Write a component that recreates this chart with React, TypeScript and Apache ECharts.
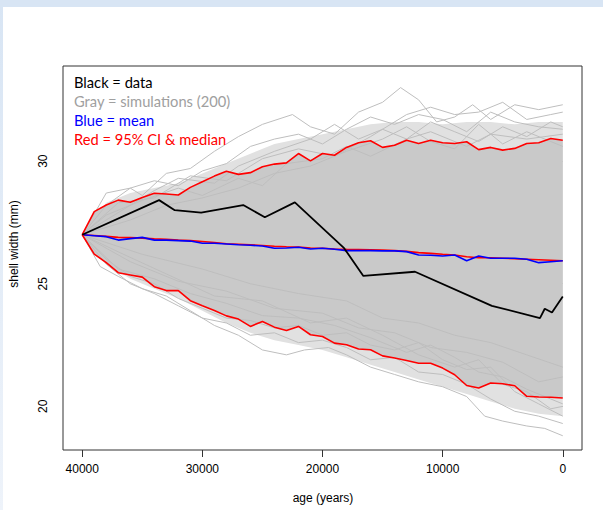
import React, { useEffect, useRef } from "react";
import * as echarts from "echarts";

// age grid of the simulation summaries (years before present)
const ages = [40000, 39000, 38000, 37000, 36000, 35000, 34000, 33000, 32000, 31000, 30000,
  29000, 28000, 27000, 26000, 25000, 24000, 23000, 22000, 21000, 20000,
  19000, 18000, 17000, 16000, 15000, 14000, 13000, 12000, 11000, 10000,
  9000, 8000, 7000, 6000, 5000, 4000, 3000, 2000, 1000, 0];

const ciUpper = [27.00, 27.94, 28.21, 28.41, 28.32, 28.52, 28.69, 28.66, 28.62, 28.93, 29.16,
  29.39, 29.59, 29.46, 29.53, 29.77, 29.88, 29.93, 30.31, 30.01, 30.31,
  30.24, 30.56, 30.75, 30.83, 30.56, 30.65, 30.85, 30.72, 30.85, 30.75,
  30.72, 30.79, 30.47, 30.56, 30.45, 30.52, 30.72, 30.75, 30.92, 30.85];

const ciLower = [27.00, 26.21, 25.86, 25.45, 25.36, 25.27, 24.88, 24.72, 24.72, 24.31, 24.10,
  23.91, 23.69, 23.56, 23.26, 23.46, 23.23, 23.09, 23.26, 22.92, 22.85,
  22.58, 22.51, 22.34, 22.31, 22.06, 21.97, 21.87, 21.76, 21.76, 21.56,
  21.29, 20.85, 20.75, 20.95, 20.92, 20.84, 20.41, 20.38, 20.37, 20.34];

const median = [27.00, 26.97, 26.93, 26.89, 26.88, 26.86, 26.83, 26.81, 26.78, 26.76, 26.72,
  26.68, 26.63, 26.61, 26.59, 26.56, 26.53, 26.51, 26.50, 26.46, 26.45,
  26.42, 26.40, 26.39, 26.38, 26.37, 26.35, 26.32, 26.27, 26.24, 26.20,
  26.17, 26.10, 26.06, 26.06, 26.04, 26.02, 26.00, 25.98, 25.96, 25.94];

const mean = [27.00, 26.96, 26.92, 26.78, 26.84, 26.89, 26.78, 26.78, 26.76, 26.74, 26.65,
  26.65, 26.62, 26.59, 26.57, 26.54, 26.45, 26.46, 26.49, 26.42, 26.45,
  26.41, 26.35, 26.35, 26.35, 26.34, 26.34, 26.31, 26.17, 26.16, 26.13,
  26.17, 25.94, 26.13, 26.04, 26.04, 26.04, 26.00, 25.86, 25.90, 25.94];

// looser mesh of simulations just outside the 95% band (2000-year grid)
const meshAges = [40000, 38000, 36000, 34000, 32000, 30000, 28000, 26000, 24000, 22000, 20000,
  18000, 16000, 14000, 12000, 10000, 8000, 6000, 4000, 2000, 0];
const meshUpper = [27.0, 28.3, 28.7, 28.9, 29.1, 29.5, 29.9, 30.3, 30.7, 30.9, 31.1,
  31.3, 31.5, 31.6, 31.6, 31.5, 31.6, 31.6, 31.5, 31.6, 31.6];
const meshLower = [27.0, 25.8, 25.2, 24.8, 24.4, 23.9, 23.4, 23.0, 22.7, 22.5, 22.3,
  22.0, 21.7, 21.4, 21.1, 20.8, 20.5, 20.2, 19.9, 19.7, 19.6];

// observed data
const dataAges = [40000, 33600, 32300, 30100, 26600, 24800, 22300, 18200, 16600, 12300, 5900, 1900, 1500, 900, 0];
const dataWidth = [27.0, 28.41, 28.0, 27.9, 28.21, 27.71, 28.32, 26.45, 25.32, 25.49, 24.10, 23.60, 23.98, 23.83, 24.48];

// individual simulation paths visible outside the dense core ([age, width])
const simUp1 = [[40000, 27], [38000, 28.7], [36000, 28.9], [35000, 28.6], [33000, 29.5], [31000, 29.7], [29000, 30.4], [27000, 31.0], [25000, 31.5], [22500, 31.9], [21000, 31.4], [19000, 31.1], [17000, 32.0], [15000, 32.4], [13500, 33.0], [12000, 32.5], [10500, 31.6], [9000, 31.8], [7500, 32.3], [6000, 31.7], [4000, 32.3], [2000, 32.1], [0, 32.3]];
const simUp2 = [[40000, 27], [38000, 28.2], [36000, 28.9], [34000, 29.2], [32000, 29.0], [30000, 29.6], [28000, 29.9], [26000, 30.6], [24000, 30.9], [22000, 31.1], [20000, 30.7], [18000, 31.3], [16000, 31.8], [14000, 31.5], [12000, 31.9], [10000, 31.7], [8000, 31.2], [6000, 32.0], [4000, 31.6], [2000, 31.4], [0, 31.3]];
const simUp3 = [[40000, 27], [37000, 27.9], [34000, 28.8], [32000, 29.3], [29000, 29.1], [27000, 29.8], [24000, 30.4], [21000, 30.9], [19000, 31.5], [17000, 30.9], [15000, 31.3], [13000, 30.9], [11000, 31.6], [9000, 31.2], [7000, 30.8], [5000, 31.4], [3000, 31.0], [1000, 31.6], [0, 31.4]];
const simUp4 = [[40000, 27], [38000, 27.8], [35000, 28.4], [32000, 28.9], [30000, 28.6], [27000, 29.3], [25000, 29.0], [23000, 29.9], [20000, 30.1], [18000, 30.6], [16000, 30.2], [13000, 30.9], [11000, 31.2], [8000, 30.6], [6000, 31.1], [3000, 30.9], [0, 31.1]];
const simUp5 = [[40000, 27], [36000, 27.6], [33000, 28.2], [30000, 28.5], [27000, 28.9], [24000, 29.5], [21000, 29.8], [18000, 30.4], [15000, 30.9], [13000, 31.4], [11000, 30.8], [9000, 30.5], [7000, 31.5], [5000, 30.7], [3000, 31.2], [0, 30.6]];
const simUp6 = [[40000, 27], [37000, 28.3], [34000, 28.5], [31000, 29.4], [28000, 29.2], [25000, 30.1], [22000, 30.5], [19000, 30.2], [16000, 31.0], [13000, 31.9], [11000, 32.2], [9000, 31.9], [7000, 32.0], [5000, 32.4], [3000, 31.7], [1000, 31.9], [0, 32.0]];
const simLo1 = [[40000, 27], [38500, 25.7], [37000, 25.3], [35000, 24.8], [33000, 24.5], [31000, 23.9], [29000, 23.3], [27000, 22.9], [25000, 22.3], [23000, 22.1], [21500, 22.3], [19500, 22.4], [18000, 22.1], [16000, 21.6], [14000, 21.3], [12000, 21.0], [10000, 20.8], [8000, 20.4], [6500, 19.6], [5000, 19.4], [3000, 19.2], [1500, 19.1], [0, 18.8]];
const simLo2 = [[40000, 27], [38000, 25.8], [36000, 25.0], [34000, 24.6], [32000, 24.1], [30000, 23.6], [28000, 23.4], [26000, 22.9], [24000, 23.0], [22000, 22.6], [20000, 22.7], [18000, 22.4], [16000, 21.9], [14000, 22.0], [12000, 21.4], [10000, 21.3], [8000, 20.9], [6000, 20.3], [4000, 19.8], [2000, 19.6], [0, 19.3]];
const simLo3 = [[40000, 27], [38000, 26.0], [36000, 25.3], [34000, 25.0], [32000, 24.4], [30000, 24.0], [28000, 23.6], [26000, 23.5], [24000, 23.2], [22000, 23.3], [20000, 22.9], [18000, 23.0], [16000, 22.5], [14000, 22.3], [12000, 22.6], [10000, 21.9], [8000, 21.5], [6000, 21.6], [4000, 20.6], [2000, 20.1], [0, 19.6]];
const simLo4 = [[40000, 27], [37000, 25.6], [34000, 25.2], [31000, 24.6], [28000, 24.2], [25000, 23.7], [22000, 23.6], [19000, 23.3], [16000, 22.8], [13000, 22.2], [11000, 22.5], [9000, 22.0], [7000, 21.4], [5000, 21.2], [3000, 20.7], [1000, 20.3], [0, 20.1]];
const simLo5 = [[40000, 27], [36000, 25.9], [32000, 25.1], [28000, 24.7], [24000, 24.0], [20000, 23.8], [17000, 23.2], [14000, 23.0], [11000, 22.4], [8000, 22.2], [5000, 21.8], [2000, 21.0], [0, 21.2]];
const simLo6 = [[40000, 27], [35000, 26.2], [30000, 25.6], [26000, 25.0], [22000, 24.6], [18000, 24.3], [15000, 23.6], [12000, 23.4], [9000, 22.9], [6000, 22.6], [3000, 22.1], [0, 21.6]];
const simLo7 = [[40000, 27], [37000, 26.3], [33000, 25.4], [29000, 24.5], [25000, 24.3], [21000, 23.4], [18000, 23.6], [15000, 22.9], [12000, 22.1], [9000, 21.6], [7000, 21.9], [5000, 20.9], [3000, 20.6], [1000, 19.9], [0, 20.0]];
const simPaths = [simUp1, simUp2, simUp3, simUp4, simUp5, simUp6, simLo1, simLo2, simLo3, simLo4, simLo5, simLo6, simLo7];

const xTicks = [40000, 30000, 20000, 10000, 0];
const yTicks = [20, 25, 30];
const legendLines = ["Black = data", "Gray = simulations (200)", "Blue = mean", "Red = 95% CI & median"];
const legendColors = ["#000000", "#a0a0a0", "#0000ff", "#ff0000"];

export default function App() {
  const ref = useRef<HTMLDivElement>(null);
  useEffect(() => {
    if (!ref.current) return;
    const chart = echarts.init(ref.current, null, { renderer: "svg" });
    const pair = (xs: number[], ys: number[]) => xs.map((x, i) => [x, ys[i]]);
    const gray = "#bebebe";
    const band = (xs: number[], up: number[], lo: number[], fill: string, z: number) => ({
      type: "custom", z, silent: true, data: [[0]],
      renderItem: (_params: any, api: any) => {
        const pts: number[][] = [];
        for (let i = 0; i < xs.length; i++) pts.push(api.coord([xs[i], up[i]]));
        for (let i = xs.length - 1; i >= 0; i--) pts.push(api.coord([xs[i], lo[i]]));
        return { type: "polygon", shape: { points: pts }, style: { fill, stroke: "none" } };
      },
    });
    const series: any[] = [
      band(meshAges, meshUpper, meshLower, "#e1e1e1", 1),
      band(ages, ciUpper, ciLower, "#c9c9c9", 1),
      ...simPaths.map((p) => ({
        type: "line", symbol: "none", z: 2, silent: true,
        lineStyle: { color: gray, width: 1 }, data: p,
      })),
      { type: "line", symbol: "none", z: 3, lineStyle: { color: "#ff0000", width: 1.6 }, data: pair(ages, median) },
      { type: "line", symbol: "none", z: 3, lineStyle: { color: "#0000ff", width: 1.6 }, data: pair(ages, mean) },
      { type: "line", symbol: "none", z: 3, lineStyle: { color: "#ff0000", width: 1.6 }, data: pair(ages, ciUpper) },
      { type: "line", symbol: "none", z: 3, lineStyle: { color: "#ff0000", width: 1.6 }, data: pair(ages, ciLower) },
      { type: "line", symbol: "none", z: 4, lineStyle: { color: "#000000", width: 1.8 }, data: pair(dataAges, dataWidth) },
    ];
    const legendTexts = legendLines.map((t, i) => ({
      type: "text", left: 74, top: 74 + i * 19.2, z: 10,
      style: { text: t, fill: legendColors[i], font: "14.7px Lato" },
    }));
    chart.setOption({
      animation: false,
      backgroundColor: "#ffffff",
      grid: { left: 63, right: 21, top: 66, bottom: 60, show: true, borderColor: "#333333", borderWidth: 1, backgroundColor: "transparent" },
      xAxis: {
        type: "value", inverse: true, min: -1600, max: 41600,
        axisLine: { show: false }, splitLine: { show: false },
        axisTick: { show: true, customValues: xTicks, length: 7, lineStyle: { color: "#333333" } },
        axisLabel: { customValues: xTicks, formatter: (v: number) => String(v), color: "#000", fontSize: 12, fontFamily: "Liberation Sans", margin: 13 },
      },
      yAxis: {
        type: "value", min: 18.22, max: 33.88,
        axisLine: { show: false }, splitLine: { show: false },
        axisTick: { show: true, customValues: yTicks, length: 7, lineStyle: { color: "#333333" } },
        axisLabel: { customValues: yTicks, formatter: (v: number) => String(v), rotate: 90, color: "#000", fontSize: 12, fontFamily: "Liberation Sans", margin: 14 },
      },
      graphic: [
        { type: "rect", shape: { x: 0, y: 0, width: 603, height: 7 }, style: { fill: "#d8e5f4" }, z: 0 },
        {
          type: "rect", shape: { x: 0, y: 0, width: 3, height: 510 }, z: 0,
          style: { fill: new echarts.graphic.LinearGradient(0, 0, 0, 1, [{ offset: 0, color: "#d8e5f4" }, { offset: 1, color: "#eef3fa" }]) },
        },
        {
          type: "text", x: 14, y: 244, rotation: Math.PI / 2, z: 10,
          style: { text: "shell width (mm)", fill: "#000", font: "12px 'Liberation Sans'", align: "center", verticalAlign: "middle" },
        },
        {
          type: "text", x: 323, y: 498, z: 10,
          style: { text: "age (years)", fill: "#000", font: "12px 'Liberation Sans'", align: "center", verticalAlign: "middle" },
        },
        ...legendTexts,
      ],
      series,
    });
    return () => chart.dispose();
  }, []);
  return <div ref={ref} style={{ position: "absolute", left: 0, top: 0, width: 603, height: 510 }} />;
}
